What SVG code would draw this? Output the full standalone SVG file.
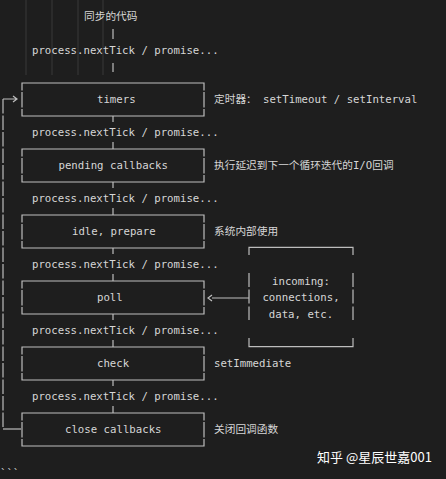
<svg xmlns="http://www.w3.org/2000/svg" xmlns:xlink="http://www.w3.org/1999/xlink" width="446" height="479" viewBox="0 0 446 479">
<style>
.t{font-family:"DejaVu Sans Mono","Noto Sans CJK SC",monospace;font-size:10.7px;fill:#d6d6d6}
.b{fill:none;stroke:#bdbdbd;stroke-width:1.2}
.g{fill:none;stroke:#383838;stroke-width:1}
.wm{font-family:"Noto Sans CJK SC","Noto Sans",sans-serif;font-size:13px;fill:#ffffff}
</style>
<defs>
<g id="frame">
<path class="b" d="M22,7.5 V0 H204 V7.5 M22,9 V24.5 M204,9 V24.5 M22,26 V33 H204 V26"/>
</g>
</defs>
<rect width="446" height="479" fill="#1e1e1e"/>
<g id="guides">
<path class="g" d="M26,0 V75 M52,0 V75 M78,0 V75 M103,0 V75"/>
</g>
<g id="connectors">
<path class="b" d="M113,29 V39 M113,63 V72"/>
<path class="b" d="M113,116 V122 M113,142 V149 M113,182 V188 M113,208 V215 M113,248 V254 M113,274 V281 M113,314 V320 M113,340 V347 M113,380 V386 M113,406 V413"/>
<path class="b" d="M3,99 V429" stroke-dasharray="14.5 2"/>
<path class="b" d="M3,99 H16 M13,96 L17,99 L13,102"/>
<path class="b" d="M3,429 H21"/>
<path class="b" d="M212,298 H249 M212,295 L208,298 L212,301"/>
</g>
<g id="sync">
<text class="t" x="84" y="20">同步的代码</text>
</g>
<g id="ticks">
<text class="t" x="32" y="53.5">process.nextTick / promise...</text>
<text class="t" x="32" y="135.5">process.nextTick / promise...</text>
<text class="t" x="32" y="201.5">process.nextTick / promise...</text>
<text class="t" x="32" y="267.5">process.nextTick / promise...</text>
<text class="t" x="32" y="333.5">process.nextTick / promise...</text>
<text class="t" x="32" y="399.5">process.nextTick / promise...</text>
</g>
<g id="timers">
<use xlink:href="#frame" y="83"/>
<text class="t" x="97" y="103">timers</text>
<text class="t" x="214" y="103">定时器：<tspan x="263">setTimeout / setInterval</tspan></text>
</g>
<g id="pending">
<use xlink:href="#frame" y="149"/>
<text class="t" x="58.5" y="169">pending callbacks</text>
<text class="t" x="214" y="169">执行延迟到下一个循环迭代的I/O回调</text>
</g>
<g id="idle">
<use xlink:href="#frame" y="215"/>
<text class="t" x="72" y="235">idle, prepare</text>
<text class="t" x="214" y="235">系统内部使用</text>
</g>
<g id="poll">
<use xlink:href="#frame" y="281"/>
<text class="t" x="97" y="301">poll</text>
</g>
<g id="incoming">
<path class="b" d="M249,255 V247.3 H353 V255 M249,273 V287 M353,273 V287 M249,289.5 V303.5 M353,289.5 V303.5 M249,306.5 V320 M353,306.5 V320 M249,338 V346.7 H353 V338"/>
<text class="t" x="301" y="284.5" text-anchor="middle">incoming:</text>
<text class="t" x="301" y="301" text-anchor="middle">connections,</text>
<text class="t" x="301" y="317.5" text-anchor="middle">data, etc.</text>
</g>
<g id="check">
<use xlink:href="#frame" y="347"/>
<text class="t" x="97" y="367">check</text>
<text class="t" x="214" y="367">setImmediate</text>
</g>
<g id="close">
<use xlink:href="#frame" y="413"/>
<text class="t" x="65" y="433">close callbacks</text>
<text class="t" x="214" y="433">关闭回调函数</text>
</g>
<text class="t" x="0" y="476.5">```</text>
<text class="wm" x="317" y="462">知乎 @星辰世嘉001</text>
</svg>
